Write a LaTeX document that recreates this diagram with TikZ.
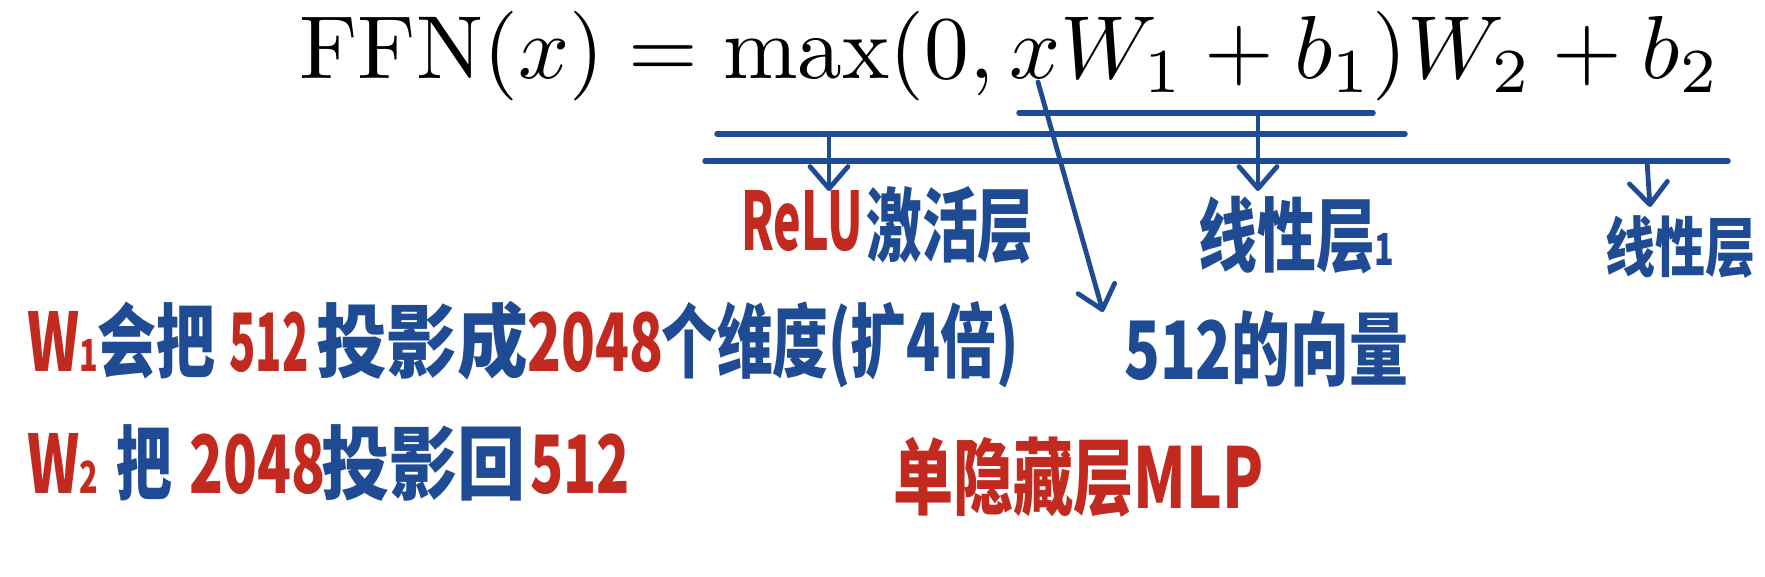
\documentclass[tikz,border=0pt]{standalone}
\usepackage{fontspec}
\newfontfamily\hwfont{Noto Sans CJK SC}
\usetikzlibrary{arrows.meta}
\definecolor{inkblue}{HTML}{1E4B93}
\definecolor{inkred}{HTML}{C22A1F}
\newcommand{\hwy}[2][1]{\scalebox{#1}[1.3]{#2}}
\newcommand{\subone}[1]{{\fontsize{34}{36}\selectfont #1}}
\tikzset{
  bar/.style={draw=inkblue, line width=5.5pt, line cap=round},
  ptr/.style={draw=inkblue, line width=4.8pt, line cap=round, -{Straight Barb[length=22pt,width=38pt,round]}},
  hw/.style={inner sep=0pt, anchor=base west, font=\hwfont\bfseries\fontsize{62}{70}\selectfont},
  hwb/.style={hw, text=inkblue},
  hwr/.style={hw, text=inkred},
}
\begin{document}
\begin{tikzpicture}[x=1pt,y=-1pt]
\useasboundingbox[fill=white] (0,0) rectangle (1765,577);

% formula
\node[inner sep=0pt, anchor=base west] (ffn) at (299,79) {\scalebox{8.95}{$\mathrm{FFN}(x)=\max(0,xW_1+b_1)W_2+b_2$}};

% bars
\coordinate (a1) at (1019,113); \coordinate (a2) at (1373,113);
\coordinate (b1) at (717,134);  \coordinate (b2) at (1405,134);
\coordinate (c1) at (705,161);  \coordinate (c2) at (1728,161);
\draw[bar] (a1) -- (a2);
\draw[bar] (b1) -- (b2);
\draw[bar] (c1) -- (c2);

% arrow anchors
\coordinate (bR) at (829,134);  \coordinate (tR) at (829,191);
\coordinate (aL) at (1258,113); \coordinate (tL) at (1258,191);
\coordinate (cL) at (1647,161); \coordinate (tL2) at (1650,207);
\coordinate (xs) at (1038,82);  \coordinate (tx) at (1103,312);
\draw[ptr] (bR) -- (tR);
\draw[ptr] (aL) -- (tL);
\draw[ptr] (cL) -- (tL2);
\draw[ptr] (xs) -- (tx);

% labels under bars
\node[hwr] (relu) at (741,251) {\hwy[0.75]{ReLU}};
\node[hwb] (act) at (866,256) {\hwy[0.9]{激活层}};
\node[hwb] (lin1) at (1198,266) {\hwy[0.95]{线性层\subone{1}}};
\node[hwb, font=\hwfont\bfseries\fontsize{50}{56}\selectfont] (lin2) at (1605,272) {\hwy{线性层}};
\node[hwb] (vec) at (1124,380) {\hwy[0.95]{512的向量}};
\node[hwr] (mlp) at (893,508) {\scalebox{0.97}[1.35]{单隐藏层MLP}};

% line 1
\node[hwr] (w1) at (27,372) {\hwy[0.9]{W\subone{1}}};
\node[hwb] (l1b) at (97,372) {\hwy[0.95]{会把}};
\node[hwr] (l1c) at (229,372) {\hwy[0.7]{512}};
\node[hwb] (l1d) at (316,372) {\hwy[1.14]{投影成}};
\node[hwr] (l1e) at (527,372) {\hwy[0.9]{2048}};
\node[hwb] (l1f) at (661,372) {\hwy[0.9]{个维度(扩4倍)}};

% line 2
\node[hwr] (w2) at (27,493) {\hwy[0.9]{W\subone{2}}};
\node[hwb] (l2b) at (116,493) {\hwy[0.9]{把}};
\node[hwr] (l2c) at (189,493) {\hwy[0.9]{2048}};
\node[hwb] (l2d) at (321,493) {\hwy[1.1]{投影回}};
\node[hwr] (l2e) at (530,493) {\hwy[0.88]{512}};
\end{tikzpicture}
\end{document}
